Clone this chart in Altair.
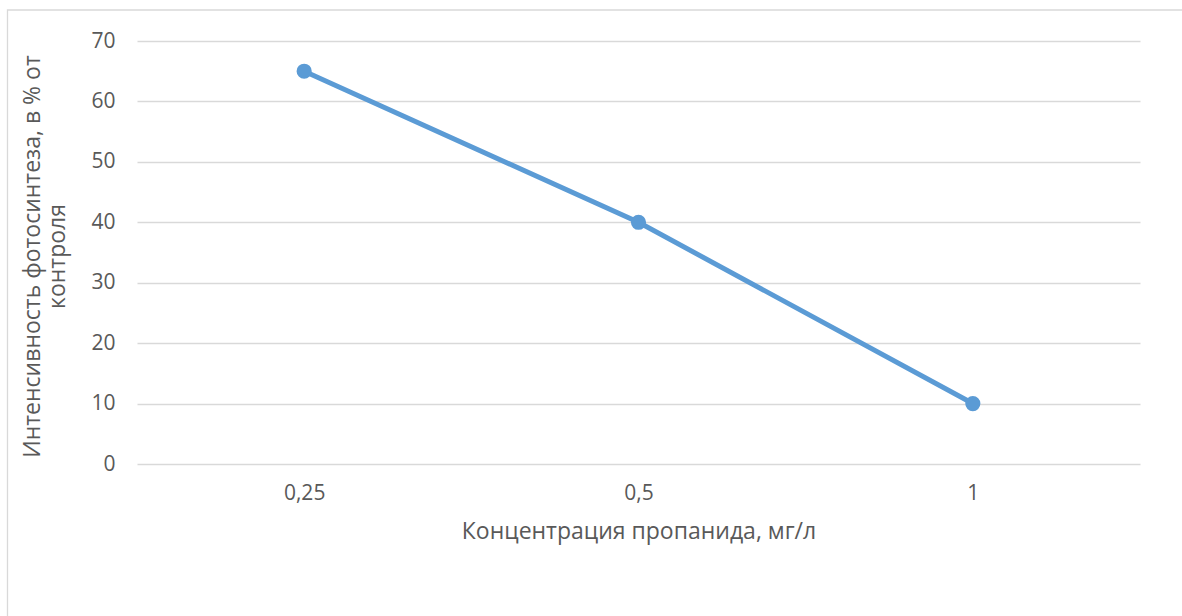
import altair as alt
import pandas as pd

categories = ["0,25", "0,5", "1"]
values = [65, 40, 10]
y_ticks = [0, 10, 20, 30, 40, 50, 60, 70]

df = pd.DataFrame({"conc": categories, "val": values})

FONT = "Open Sans"
TXT = "#595959"
W, H = 1003, 423
PL, PT = 137, 41

x_enc = alt.X(
    "conc:N",
    sort=categories,
    scale=alt.Scale(type="point", padding=0.5),
    axis=alt.Axis(
        title="Концентрация пропанида, мг/л",
        labelAngle=0,
        ticks=False,
        domain=False,
        grid=False,
        labelPadding=18,
        titlePadding=17,
        titleFontSize=23,
    ),
)
y_enc = alt.Y(
    "val:Q",
    scale=alt.Scale(domain=[0, 70], nice=False),
    axis=alt.Axis(
        title=["Интенсивность фотосинтеза, в % от", "контроля"],
        values=y_ticks,
        ticks=False,
        domain=False,
        grid=True,
        gridColor="#D9D9D9",
        gridWidth=1.3,
        labelPadding=22,
        titlePadding=21,
        titleFontSize=23,
        titleY=215,
    ),
)

border = alt.Chart(pd.DataFrame({"a": [0]})).mark_rect(
    fillOpacity=0, stroke="#D9D9D9", strokeWidth=1.3
).encode(
    x=alt.value(7.5 - PL),
    x2=alt.value(1200 - PL),
    y=alt.value(10 - PT),
    y2=alt.value(640 - PT),
)

line = alt.Chart(df).mark_line(color="#5B9BD5", strokeWidth=5).encode(x=x_enc, y=y_enc)
pts = alt.Chart(df).mark_circle(color="#5B9BD5", size=230, opacity=1).encode(x=x_enc, y=y_enc)

chart = alt.layer(line, pts, border).properties(
    width=W, height=H,
    background="white",
    autosize=alt.AutoSizeParams(type="none"),
    padding={"left": PL, "top": PT, "right": 1182 - PL - W, "bottom": 616 - PT - H},
).configure_view(stroke=None).configure_axis(
    labelFont=FONT, titleFont=FONT, labelFontSize=21,
    labelColor=TXT, titleColor=TXT, titleFontWeight="normal",
)

chart.save("out.html", embed_options={"renderer": "svg", "actions": False})
